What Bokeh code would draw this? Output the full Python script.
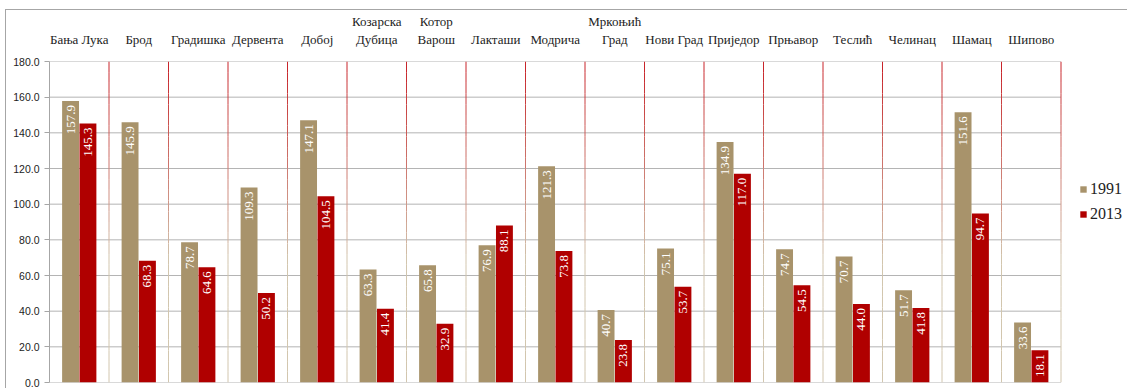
import math
from bokeh.plotting import figure
from bokeh.models import (ColumnDataSource, Range1d, Legend, LegendItem,
                          FixedTicker, NumeralTickFormatter)
from bokeh.transform import dodge
from bokeh.core.properties import value
from bokeh.embed import file_html
from bokeh.resources import INLINE

municipalities = ["Бања Лука", "Брод", "Градишка", "Дервента", "Добој",
                  "Козарска\nДубица", "Котор\nВарош", "Лакташи", "Модрича",
                  "Мркоњић\nГрад", "Нови Град", "Приједор", "Прњавор",
                  "Теслић", "Челинац", "Шамац", "Шипово"]
v1991 = [157.9, 145.9, 78.7, 109.3, 147.1, 63.3, 65.8, 76.9, 121.3,
         40.7, 75.1, 134.9, 74.7, 70.7, 51.7, 151.6, 33.6]
v2013 = [145.3, 68.3, 64.6, 50.2, 104.5, 41.4, 32.9, 88.1, 73.8,
         23.8, 53.7, 117.0, 54.5, 44.0, 41.8, 94.7, 18.1]
series_names = ["1991", "2013"]
y_ticks = [0, 20, 40, 60, 80, 100, 120, 140, 160, 180]

TAN = "#A8936B"
RED = "#B00000"
SERIF = "Liberation Serif"
SANS = "Liberation Sans"

n = len(municipalities)
positions = list(range(1, n + 1))          # category slots on the x scale
x_lo, x_hi = 0.5, n + 0.5                   # plot-area extent in data units
Y_MAX = y_ticks[-1]

src = ColumnDataSource(dict(
    pos=positions, y91=v1991, y13=v2013,
    l91=[f"{v:.1f}" for v in v1991], l13=[f"{v:.1f}" for v in v2013]))

FIG_W, LEFT = 1122, 43
frame_w = FIG_W - LEFT
slot_px = 59.5
p = figure(x_range=Range1d(x_lo, x_lo + frame_w / slot_px), y_range=(0, Y_MAX),
           width=FIG_W, height=379, output_backend="svg", toolbar_location=None,
           x_axis_location="above",
           min_border_left=LEFT, min_border_right=0, min_border_top=44,
           min_border_bottom=7)
p.styles = {"border-top": "1px solid #a6a6a6", "border-left": "1px solid #a6a6a6",
            "margin-left": "5px", "margin-top": "9px"}
p.outline_line_color = None
p.xgrid.grid_line_color = None
p.ygrid.grid_line_color = None

# horizontal grid lines limited to the category area
p.segment(x0=[x_lo] * len(y_ticks), x1=[x_hi] * len(y_ticks), y0=y_ticks, y1=y_ticks,
          line_color="#b4b4b4", line_width=1)

# vertical separators: red at the top fading to beige lower down
n_seg = 30
def mix(c1, c2, t):
    a = [int(c1[i:i+2], 16) for i in (1, 3, 5)]
    b = [int(c2[i:i+2], 16) for i in (1, 3, 5)]
    return "#%02x%02x%02x" % tuple(round(a[k] + (b[k] - a[k]) * t) for k in range(3))
bounds = [b + 0.5 for b in positions]
for s in range(n_seg):
    y_top = Y_MAX - Y_MAX * s / n_seg
    y_bot = Y_MAX - Y_MAX * (s + 1) / n_seg
    p.segment(x0=bounds, x1=bounds, y0=[y_top] * n, y1=[y_bot] * n,
              line_color=mix("#c8242a", "#d2c6ae", min(1.0, 1.6 * s / (n_seg - 1))),
              line_width=1, line_cap="butt")

r1 = p.vbar(x=dodge("pos", -0.146), top="y91", width=0.284,
            source=src, fill_color=TAN, line_color=None)
r2 = p.vbar(x=dodge("pos", 0.146), top="y13", width=0.284,
            source=src, fill_color=RED, line_color=None)

for col, lab, off in (("y91", "l91", -0.146), ("y13", "l13", 0.146)):
    p.text(x=dodge("pos", off), y=col, text=lab,
           angle=math.pi / 2, text_align="right", text_baseline="middle",
           y_offset=4, text_color="white", text_font=value(SERIF),
           text_font_size="13px", source=src)

# axes
xa = p.xaxis[0]
xa.ticker = FixedTicker(ticks=positions)
xa.major_label_overrides = {pos: name for pos, name in zip(positions, municipalities)}
xa.axis_line_color = None
xa.major_tick_line_color = None
xa.minor_tick_line_color = None
xa.major_label_text_font = SERIF
xa.major_label_text_font_size = "13px"
xa.major_label_text_color = "#222222"
xa.major_label_standoff = 9

ya = p.yaxis[0]
ya.ticker = FixedTicker(ticks=y_ticks)
ya.formatter = NumeralTickFormatter(format="0.0")
ya.axis_line_color = "#a6a6a6"
ya.major_tick_line_color = "#a6a6a6"
ya.major_tick_in = 0
ya.major_tick_out = 5
ya.minor_tick_line_color = None
ya.major_label_text_font = SANS
ya.major_label_text_font_size = "10.5px"
ya.major_label_text_color = "#222222"
ya.major_label_standoff = 5

legend = Legend(items=[LegendItem(label=series_names[0], renderers=[r1]),
                       LegendItem(label=series_names[1], renderers=[r2])],
                location=(1030, 159), margin=0, padding=0,
                glyph_width=8, glyph_height=8, label_standoff=3, spacing=7,
                label_text_font=SERIF, label_text_font_size="16px",
                label_text_color="#222222",
                border_line_color=None, background_fill_alpha=0)
p.add_layout(legend, "center")

open("out.html", "w").write(file_html(p, INLINE))
